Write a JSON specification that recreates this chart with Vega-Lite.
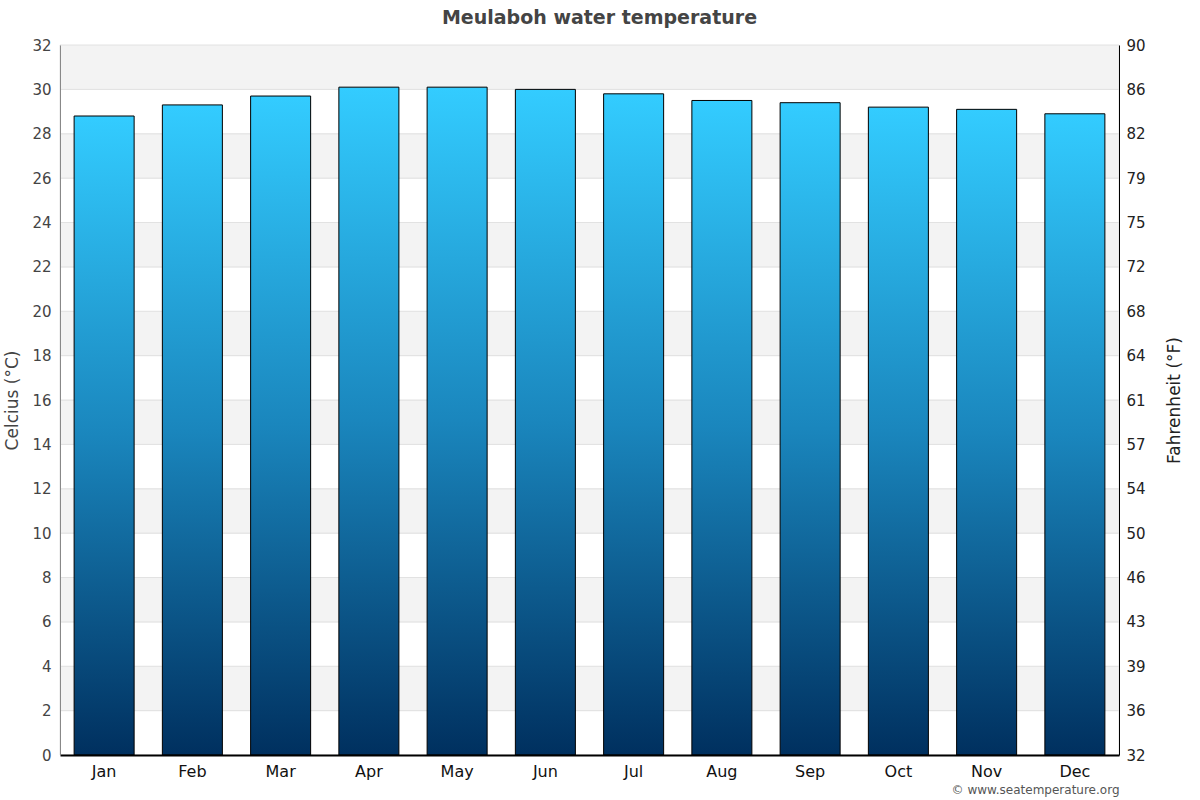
{
  "$schema": "https://vega.github.io/schema/vega-lite/v6.json",
  "width": 1059,
  "height": 710,
  "autosize": {"type": "none"},
  "padding": {"left": 60, "top": 45, "right": 81, "bottom": 45},
  "background": "white",
  "title": {
    "text": "Meulaboh water temperature",
    "anchor": "middle",
    "frame": "group",
    "dx": 10,
    "offset": 10,
    "fontSize": 19,
    "fontWeight": "bold",
    "color": "#444444",
    "font": "DejaVu Sans"
  },
  "datasets": {
    "temps": [
      {"month": "Jan", "celsius": 28.8},
      {"month": "Feb", "celsius": 29.3},
      {"month": "Mar", "celsius": 29.7},
      {"month": "Apr", "celsius": 30.1},
      {"month": "May", "celsius": 30.1},
      {"month": "Jun", "celsius": 30.0},
      {"month": "Jul", "celsius": 29.8},
      {"month": "Aug", "celsius": 29.5},
      {"month": "Sep", "celsius": 29.4},
      {"month": "Oct", "celsius": 29.2},
      {"month": "Nov", "celsius": 29.1},
      {"month": "Dec", "celsius": 28.9}
    ],
    "bands": [
      {"lo": 0, "hi": 2, "shade": "w"},
      {"lo": 2, "hi": 4, "shade": "g"},
      {"lo": 4, "hi": 6, "shade": "w"},
      {"lo": 6, "hi": 8, "shade": "g"},
      {"lo": 8, "hi": 10, "shade": "w"},
      {"lo": 10, "hi": 12, "shade": "g"},
      {"lo": 12, "hi": 14, "shade": "w"},
      {"lo": 14, "hi": 16, "shade": "g"},
      {"lo": 16, "hi": 18, "shade": "w"},
      {"lo": 18, "hi": 20, "shade": "g"},
      {"lo": 20, "hi": 22, "shade": "w"},
      {"lo": 22, "hi": 24, "shade": "g"},
      {"lo": 24, "hi": 26, "shade": "w"},
      {"lo": 26, "hi": 28, "shade": "g"},
      {"lo": 28, "hi": 30, "shade": "w"},
      {"lo": 30, "hi": 32, "shade": "g"}
    ]
  },
  "layer": [
    {
      "data": {"name": "bands"},
      "mark": {"type": "rect", "stroke": "#e2e2e2", "strokeWidth": 1},
      "encoding": {
        "y": {"field": "lo", "type": "quantitative", "scale": {"domain": [0, 32], "nice": false}, "axis": null},
        "y2": {"field": "hi"},
        "fill": {
          "field": "shade",
          "type": "nominal",
          "scale": {"domain": ["g", "w"], "range": ["#f3f3f3", "#ffffff"]},
          "legend": null
        }
      }
    },
    {
      "data": {"name": "temps"},
      "mark": {
        "type": "bar",
        "stroke": "#000000",
        "strokeWidth": 1,
        "fill": {
          "gradient": "linear",
          "x1": 0, "y1": 0, "x2": 0, "y2": 1,
          "stops": [
            {"offset": 0, "color": "#33ccff"},
            {"offset": 0.5, "color": "#1a86bd"},
            {"offset": 1, "color": "#00305f"}
          ]
        }
      },
      "encoding": {
        "x": {
          "field": "month",
          "type": "ordinal",
          "sort": null,
          "scale": {"paddingInner": 0.32, "paddingOuter": 0.16},
          "axis": {
            "title": "© www.seatemperature.org",
            "titleAnchor": "end",
            "titleAlign": "right",
            "titleFontSize": 12,
            "titleFontWeight": "normal",
            "titleColor": "#555555",
            "titlePadding": 5,
            "labelAngle": 0,
            "labelFontSize": 16,
            "labelColor": "#111111",
            "labelPadding": 8,
            "ticks": false,
            "domainColor": "#000000",
            "domainWidth": 2,
            "zindex": 1
          }
        },
        "y": {
          "field": "celsius",
          "type": "quantitative",
          "scale": {"domain": [0, 32], "nice": false},
          "axis": {
            "title": "Celcius (°C)",
            "values": [0, 2, 4, 6, 8, 10, 12, 14, 16, 18, 20, 22, 24, 26, 28, 30, 32],
            "grid": false,
            "ticks": false,
            "labelFontSize": 15,
            "labelColor": "#444444",
            "labelPadding": 9,
            "titleFontSize": 17,
            "titleFontWeight": "normal",
            "titleColor": "#444444",
            "titlePadding": 10,
            "domainColor": "#888888",
            "zindex": 1
          }
        }
      }
    },
    {
      "data": {"name": "temps"},
      "mark": {"type": "point", "opacity": 0},
      "encoding": {
        "x": {"field": "month", "type": "ordinal", "sort": null},
        "y": {
          "field": "celsius",
          "type": "quantitative",
          "scale": {"domain": [0, 32], "nice": false},
          "axis": {
            "orient": "right",
            "title": "Fahrenheit (°F)",
            "values": [0, 2, 4, 6, 8, 10, 12, 14, 16, 18, 20, 22, 24, 26, 28, 30, 32],
            "labelExpr": "format(datum.value * 1.8 + 32, '.0f')",
            "grid": false,
            "ticks": false,
            "labelFontSize": 15,
            "labelColor": "#222222",
            "labelPadding": 7,
            "titleFontSize": 17,
            "titleFontWeight": "normal",
            "titleColor": "#222222",
            "titleAngle": 270,
            "titlePadding": 38,
            "domainColor": "#000000",
            "zindex": 1
          }
        }
      }
    }
  ],
  "resolve": {"scale": {"y": "independent"}},
  "config": {
    "font": "DejaVu Sans",
    "view": {"stroke": null}
  }
}
